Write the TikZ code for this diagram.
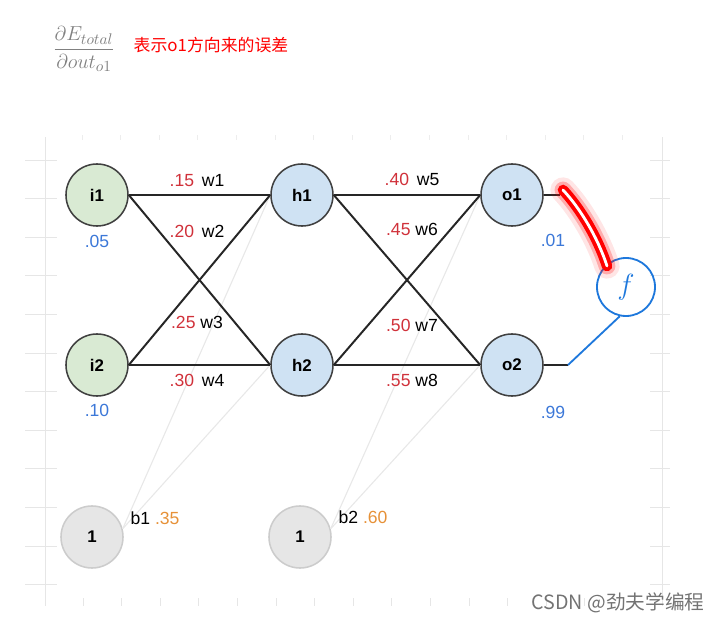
\documentclass[tikz,border=0pt]{standalone}
\usepackage[no-math]{fontspec}
\setmainfont{Liberation Sans}
\newfontfamily\cjk{Noto Sans CJK SC}
\usetikzlibrary{positioning}

\definecolor{ingreen}{HTML}{D9EAD3}
\definecolor{hidblue}{HTML}{CFE2F3}
\definecolor{biasgray}{HTML}{E6E6E6}
\definecolor{wred}{HTML}{D0313A}
\definecolor{valblue}{HTML}{3C78D8}
\definecolor{borange}{HTML}{E69138}
\definecolor{penblue}{HTML}{1E78DC}
\definecolor{rulergray}{HTML}{E6E6E6}

\begin{document}
\begin{tikzpicture}[x=0.025cm, y=-0.025cm, >=latex,
  neuron/.style={circle, draw=black!75, line width=1.1pt, minimum size=1.55cm,
    inner sep=0pt, font=\bfseries\fontsize{12}{14}\selectfont},
  bias/.style={neuron, draw=black!20, fill=biasgray},
  conn/.style={line width=1.4pt, black!85},
  biasconn/.style={line width=0.8pt, black!9},
  wlabel/.style={font=\fontsize{12.5}{14}\selectfont, inner sep=1pt},
  vlabel/.style={wlabel, text=valblue},
  ruler/.style={rulergray, line width=0.6pt}]
  \useasboundingbox (0,0) rectangle (719,622);

  % ruler in the background
  \draw[ruler] (45,137) -- (45,606);
  \draw[ruler] (662,137) -- (662,606);
  \foreach \k in {0,...,11} {
      \draw[ruler] (25,160+38.6*\k) -- (57,160+38.6*\k);
      \draw[ruler] (650,160+38.6*\k) -- (670,160+38.6*\k);
  };
  \foreach \k in {0,...,14} {
      \draw[ruler, rulergray!70] (82+38.6*\k,135) -- (82+38.6*\k,140);
      \draw[ruler] (83+38.6*\k,598) -- (83+38.6*\k,606);
  };

  % header
  \node[text=black!50, font=\fontsize{15}{17}\selectfont] (grad) at (84,49)
    {$\displaystyle\frac{\partial E_{total}}{\partial out_{o1}}$};
  \node[text=red, font=\cjk\fontsize{12}{14}\selectfont] (note) at (211,45) {表示o1方向来的误差};

  % neurons
  \node[neuron, fill=ingreen] (i1) at (97,195) {i1};
  \node[neuron, fill=ingreen] (i2) at (97,365) {i2};
  \node[neuron, fill=hidblue] (h1) at (302,195) {h1};
  \node[neuron, fill=hidblue] (h2) at (302,365) {h2};
  \node[neuron, fill=hidblue] (o1) at (512,195) {o1};
  \node[neuron, fill=hidblue] (o2) at (512,365) {o2};
  \node[bias] (b1) at (92,537) {1};
  \node[bias] (b2) at (300,537) {1};

  % bias connections
  \foreach \t in {h1,h2} \draw[biasconn] (b1.15) -- (\t.west);
  \foreach \t in {o1,o2} \draw[biasconn] (b2.15) -- (\t.west);

  % weights
  \foreach \a in {i1,i2} {
      \foreach \b in {h1,h2} \draw[conn] (\a.east) -- (\b.west);
  };
  \foreach \a in {h1,h2} {
      \foreach \b in {o1,o2} \draw[conn] (\a.east) -- (\b.west);
  };

  \node[wlabel] (lw1) at (197,181) {\textcolor{wred}{.15}\, w1};
  \node[wlabel] (lw2) at (197,231) {\textcolor{wred}{.20}\, w2};
  \node[wlabel] (lw3) at (197,322) {\textcolor{wred}{.25} w3};
  \node[wlabel] (lw4) at (197,380) {\textcolor{wred}{.30}\, w4};
  \node[wlabel] (lw5) at (412,179) {\textcolor{wred}{.40}\, w5};
  \node[wlabel] (lw6) at (412,229) {\textcolor{wred}{.45} w6};
  \node[wlabel] (lw7) at (412,325) {\textcolor{wred}{.50} w7};
  \node[wlabel] (lw8) at (412,380) {\textcolor{wred}{.55} w8};
  \node[wlabel] (lb1) at (155,518) {b1 \textcolor{borange}{.35}};
  \node[wlabel] (lb2) at (363,517) {b2 \textcolor{borange}{.60}};

  % values
  \node[vlabel] (vi1) at (97,241) {.05};
  \node[vlabel] (vi2) at (97,410) {.10};
  \node[vlabel] (vo1) at (553,240) {.01};
  \node[vlabel] (vo2) at (553,412) {.99};

  % outputs and the error node
  \coordinate (e1) at (560,195);
  \coordinate (e2) at (568,365);
  \draw[conn] (o1.east) -- (e1);
  \draw[conn] (o2.east) -- (e2);
  \node[circle, draw=penblue, line width=1.3pt, minimum size=1.45cm, inner sep=0pt,
    text=penblue, font=\fontsize{22}{22}\selectfont] (f) at (626,287) {$f$};
  \draw[penblue, line width=1.3pt] (e2) -- (f.-102);

  % red marker stroke
  \coordinate (s1) at (563,190);
  \coordinate (s2) at (607,266);
  \draw[red, opacity=0.1, line width=18pt, line cap=round] (s1) .. controls (580,208) and (598,238) .. (s2);
  \draw[red, opacity=0.25, line width=12pt, line cap=round] (s1) .. controls (580,208) and (598,238) .. (s2);
  \draw[red, line width=7.5pt, line cap=round] (s1) .. controls (580,208) and (598,238) .. (s2);
  \draw[white, line width=2pt, line cap=round] (s1) .. controls (580,208) and (598,238) .. (s2);

  % watermark
  \node[text=black!55, font=\cjk\fontsize{14}{16}\selectfont] (mark) at (618,603) {CSDN @劲夫学编程};
\end{tikzpicture}
\end{document}
